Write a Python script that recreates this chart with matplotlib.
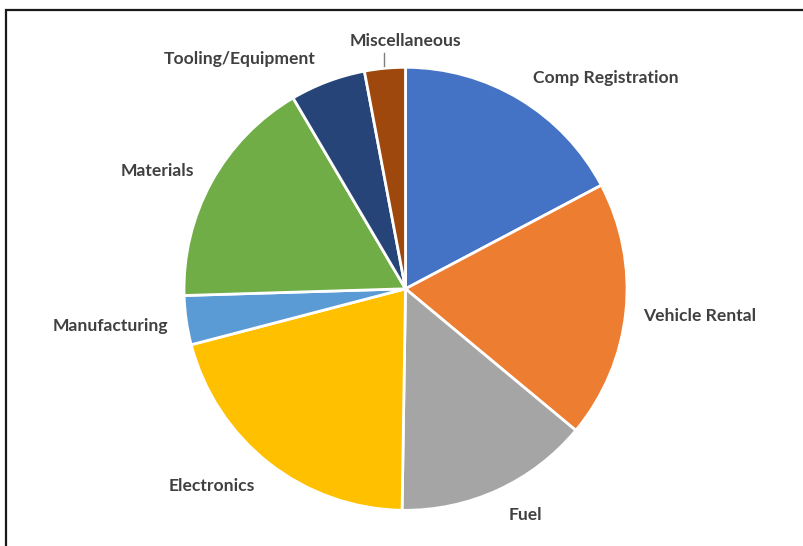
import matplotlib
matplotlib.use("Agg")
import matplotlib.pyplot as plt
from matplotlib.patches import Rectangle

categories = ["Comp Registration", "Vehicle Rental", "Fuel", "Electronics",
              "Manufacturing", "Materials", "Tooling/Equipment", "Miscellaneous"]
values = [17.25, 18.77, 14.2, 20.68, 3.58, 17.0, 5.5, 2.97]
colors = ["#4472C4", "#ED7D31", "#A5A5A5", "#FFC000",
          "#5B9BD5", "#70AD47", "#264478", "#9E480E"]

# label positions in pixel coords (x, y from top)
label_pos = [(606, 78), (700, 316), (525, 515), (212, 486),
             (110, 326), (157, 171), (240, 59), (405, 41)]

W, H = 804, 546
fig = plt.figure(figsize=(W / 100, H / 100), dpi=100)
ax = fig.add_axes([0, 0, 1, 1])

cx, cy, r = 405.5, H - 288.8, 221.5
ax.pie(values, colors=colors, startangle=90, counterclock=False,
       center=(cx, cy), radius=r, frame=True,
       wedgeprops=dict(edgecolor="white", linewidth=2))
ax.set_xlim(0, W)
ax.set_ylim(0, H)
ax.set_aspect("equal")
ax.axis("off")

for name, (px, py) in zip(categories, label_pos):
    ax.text(px, H - py, name, ha="center", va="center", fontsize=12.6,
            fontweight="bold", color="#404040", family="Lato")

# leader line for Miscellaneous
ax.plot([384, 384], [H - 53, H - 66], color="#7f7f7f", linewidth=1)

# chart border
ax.add_patch(Rectangle((6, -10), W, H, fill=False,
                       edgecolor="#1a1a1a", linewidth=1.6, clip_on=False))

fig.savefig("out.png", dpi=100)
